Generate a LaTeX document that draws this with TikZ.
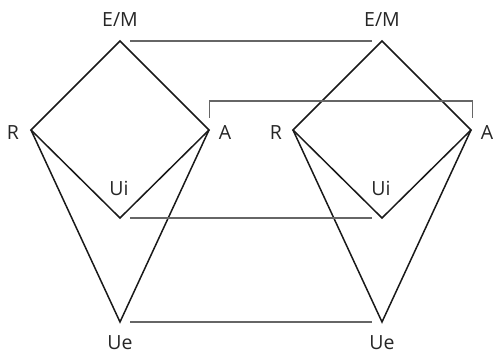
\documentclass[tikz,border=0pt]{standalone}
\usepackage{fontspec}
\setmainfont{Open Sans}

\begin{document}
\begin{tikzpicture}[
    x=1pt, y=-1pt,
    edge/.style={
        line width=1.5pt,
        black!90,
        line join=miter
    },
    link/.style={
        line width=1.1pt,
        black!60
    },
    lbl/.style={
        anchor=base,
        inner sep=0pt,
        text=black!85,
        font=\fontsize{19.5}{21}\selectfont
    }
]
\useasboundingbox (0,0) rectangle (493,355);

% left model
\coordinate (emL) at (120,41);
\coordinate (rL) at (31,130);
\coordinate (aL) at (209,130);
\coordinate (uiL) at (120,218);
\coordinate (ueL) at (120,322);

% right model
\coordinate (emR) at (382,41);
\coordinate (rR) at (293,130);
\coordinate (aR) at (471,130);
\coordinate (uiR) at (382,218);
\coordinate (ueR) at (382,322);

\node[lbl] (lemL) at (120,27) {E/M};
\node[lbl] (lrL) at (13,140) {R};
\node[lbl] (laL) at (225,140) {A};
\node[lbl] (luiL) at (119,196) {Ui};
\node[lbl] (lueL) at (120,350) {Ue};

\node[lbl] (lemR) at (382,27) {E/M};
\node[lbl] (lrR) at (276,140) {R};
\node[lbl] (laR) at (487,140) {A};
\node[lbl] (luiR) at (381,196) {Ui};
\node[lbl] (lueR) at (382,350) {Ue};

\draw[edge] (emL) -- (aL) -- (uiL) -- (rL) -- cycle;
\draw[edge] (rL) -- (ueL) -- (aL);
\draw[edge] (emR) -- (aR) -- (uiR) -- (rR) -- cycle;
\draw[edge] (rR) -- (ueR) -- (aR);

% links between the two models
\draw[link, shorten <=10pt, shorten >=10pt] (emL) -- (emR);
\draw[link, shorten <=10pt, shorten >=10pt] (uiL) -- (uiR);
\draw[link, shorten <=10pt, shorten >=10pt] (ueL) -- (ueR);
\coordinate (brL) at (209.5,118);
\coordinate (brR) at (472.5,118);
\draw[link] (brL) -- ++(0,-17) -| (brR);

\end{tikzpicture}
\end{document}
